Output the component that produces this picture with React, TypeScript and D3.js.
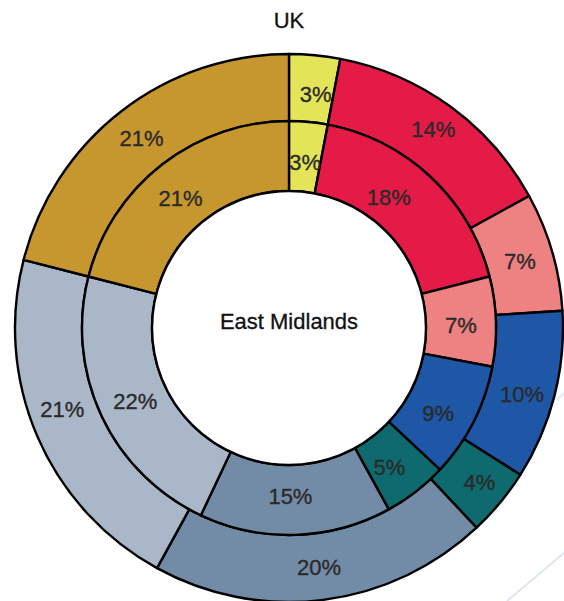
import React from "react";
import * as d3 from "d3";

const categories = ["A", "B", "C", "D", "E", "F", "G", "H"];
const ukValues = [3, 14, 7, 10, 4, 20, 21, 21];
const eastMidlandsValues = [3, 18, 7, 9, 5, 15, 22, 21];
const colors = ["#E3E458", "#E31B46", "#EE8282", "#1D57A5", "#0E6A6E", "#728BA6", "#A9B7C8", "#C6962F"];
const titleOuter = "UK";
const titleInner = "East Midlands";

// small manual label nudges (layout only)
const outerNudge: [number, number][] = [[4, 5], [3, -4], [0, 0], [0, 6], [5, 1], [0, 0], [-6, -14], [0, 0]];
const innerNudge: [number, number][] = [[0, 5], [-18, -6], [0, 2], [-4, 7], [-5, 3], [-4, -4], [2, 0], [-3, 6]];

const W = 564;
const H = 601;
const cx = 289;
const cy = 328;
const rHole = 137;
const rMid = 207;
const rOuter = 274;
const fs = 22;
const font = "'Liberation Sans', Arial, Helvetica, sans-serif";

function Ring({ values, inner, outer, nudge }: { values: number[]; inner: number; outer: number; nudge: [number, number][] }) {
  const pie = d3.pie<number>().sort(null).value((d) => d)(values);
  const arc = d3.arc<d3.PieArcDatum<number>>().innerRadius(inner).outerRadius(outer);
  const labelR = (inner + outer) / 2;
  const labelArc = d3.arc<d3.PieArcDatum<number>>().innerRadius(labelR).outerRadius(labelR);
  return (
    <g>
      {pie.map((p, i) => (
        <path key={"p" + categories[i]} d={arc(p) || ""} fill={colors[i]} stroke="#000" strokeWidth={2.4} strokeLinejoin="round" />
      ))}
      {pie.map((p, i) => {
        const [x, y] = labelArc.centroid(p);
        return (
          <text key={"t" + categories[i]} x={x + nudge[i][0]} y={y + nudge[i][1] + fs * 0.36} textAnchor="middle" fontSize={fs} fill="#2a2a2a" stroke="#2a2a2a" strokeWidth={0.35} fontFamily={font}>
            {values[i]}%
          </text>
        );
      })}
    </g>
  );
}

export default function App() {
  return (
    <svg width={W} height={H} style={{ position: "absolute", left: 0, top: 0, background: "#fff" }}>
      <path d="M 507 601 L 564 553" stroke="#dde6f3" strokeWidth={2} fill="none" />
      <path d="M 557 400 L 564 393" stroke="#e8eef7" strokeWidth={3} fill="none" />
      <g transform={`translate(${cx},${cy})`}>
        <Ring values={ukValues} inner={rMid} outer={rOuter} nudge={outerNudge} />
        <Ring values={eastMidlandsValues} inner={rHole} outer={rMid} nudge={innerNudge} />
        <circle r={rHole} fill="#fff" stroke="#000" strokeWidth={2.4} />
        <text x={0} y={-7 + fs * 0.36} textAnchor="middle" fontSize={fs} fill="#111" stroke="#111" strokeWidth={0.3} fontFamily={font}>
          {titleInner}
        </text>
      </g>
      <text x={cx} y={20 + fs * 0.36} textAnchor="middle" fontSize={fs} fill="#111" stroke="#111" strokeWidth={0.3} fontFamily={font}>
        {titleOuter}
      </text>
    </svg>
  );
}
